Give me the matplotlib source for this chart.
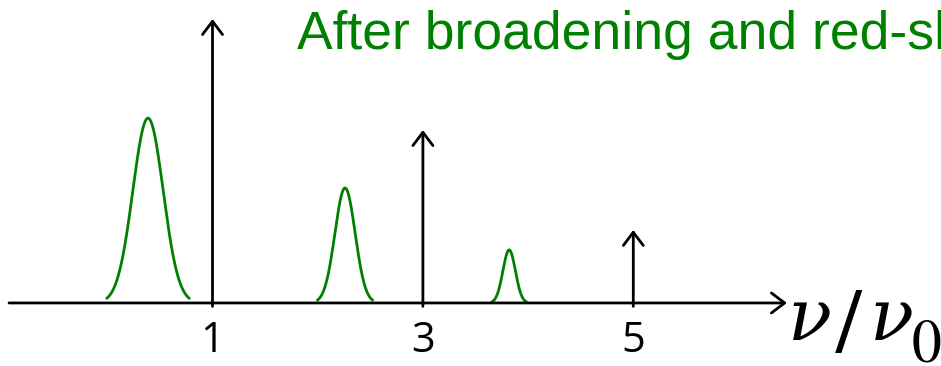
import numpy as np
import matplotlib.pyplot as plt

# harmonics (in units of nu0) and their line strengths
harmonics = [1, 3, 5]
line_heights = [1.0, 0.609, 0.257]
tick_labels = ["1", "3", "5"]

# broadened, red-shifted profiles: centre, peak height, half-span
peak_centres = [0.387, 2.26, 3.82]
peak_heights = [0.651, 0.405, 0.187]
peak_halfspan = [0.39, 0.26, 0.16]

green = "#008000"

fig = plt.figure(figsize=(9.41, 3.66), dpi=100)
ax = fig.add_axes([0, 0, 1, 1])
ax.set_xlim(-1.020, 7.925)
ax.set_ylim(-0.222, 1.067)
ax.axis("off")

arrow = dict(arrowstyle="->,head_length=0.95,head_width=0.72", lw=2,
             color="black", shrinkA=0, shrinkB=0, mutation_scale=10)

# frequency axis
ax.annotate("", xy=(6.46, 0), xytext=(-0.934, 0), arrowprops=arrow)

# original emission lines
for x, h in zip(harmonics, line_heights):
    ax.annotate("", xy=(x, h), xytext=(x, -0.012), arrowprops=arrow)

for x, lab in zip(harmonics, tick_labels):
    ax.text(x, -0.1725, lab, ha="center", va="baseline",
            fontsize=30, family="Open Sans")

# gaussian profiles cut off a bit above the baseline
for c, h, w in zip(peak_centres, peak_heights, peak_halfspan):
    s = w / 2.7
    xx = np.linspace(c - w, c + w, 200)
    ax.plot(xx, h * np.exp(-0.5 * ((xx - c) / s) ** 2), color=green, lw=2)

fig.text(297 / 941, 1 - 49 / 366, "After broadening and red-shift",
         color=green, fontsize=38.5, family="Liberation Sans", va="baseline")

# axis label nu / nu_0, built piece by piece
W, H = 941, 366
fig.text(788 / W, 1 - 340 / H, "\u03bd", fontsize=52, family="DejaVu Serif",
         style="italic", va="baseline")
fig.text(836 / W, 1 - 352 / H, "/", fontsize=66, family="STIXGeneral",
         va="baseline")
fig.text(870 / W, 1 - 340 / H, "\u03bd", fontsize=52, family="DejaVu Serif",
         style="italic", va="baseline")
fig.text(912 / W, 1 - 362 / H, "0", fontsize=43, family="STIXGeneral",
         va="baseline")

fig.savefig("out.png", dpi=100)
